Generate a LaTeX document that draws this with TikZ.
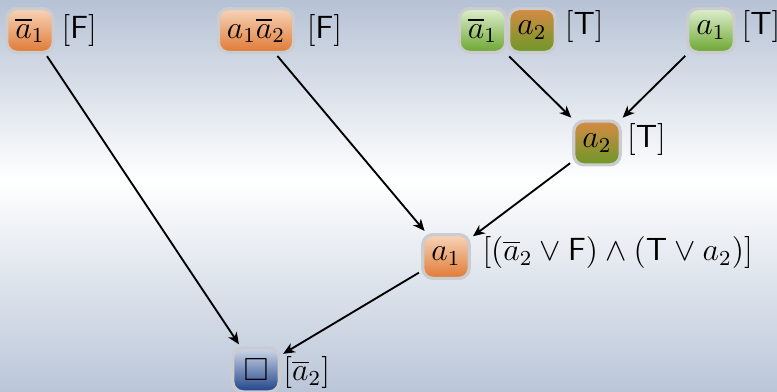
\documentclass[tikz,border=0pt]{standalone}
\usepackage{amssymb}
\usetikzlibrary{arrows.meta,fit}

\definecolor{bgTop}{RGB}{182,194,213}
\definecolor{bgBot}{RGB}{186,198,216}
\definecolor{edgegrey}{RGB}{202,204,208}
\definecolor{orTop}{RGB}{247,212,186}
\definecolor{orBot}{RGB}{224,122,52}
\definecolor{grTop}{RGB}{222,239,206}
\definecolor{grBot}{RGB}{108,166,48}
\definecolor{mxTop}{RGB}{214,138,68}
\definecolor{mxBot}{RGB}{108,152,40}
\definecolor{blTop}{RGB}{206,216,233}
\definecolor{blBot}{RGB}{30,66,136}

\begin{document}
\begin{tikzpicture}[x=0.375pt,y=-0.375pt,
  font=\fontsize{12}{14}\selectfont,
  lit/.style={rounded corners=3.8pt, minimum width=17.4pt, minimum height=16.4pt,
              inner sep=2pt, line width=1.2pt, draw=edgegrey},
  orng/.style={lit, top color=orTop, bottom color=orBot},
  grn/.style={lit, top color=grTop, bottom color=grBot},
  mix/.style={lit, top color=mxTop, bottom color=mxBot},
  blu/.style={lit, top color=blTop, bottom color=blBot},
  tag/.style={anchor=base west, inner sep=0pt},
  imp/.style={-{Stealth[length=4.4pt,width=3.8pt,inset=1.3pt]}, line width=0.7pt,
              shorten >=1pt, shorten <=1pt}
]
% backdrop: light blue fading to white in the middle and back
\shade[top color=bgTop, bottom color=white] (0,0) rectangle (777,180);
\shade[top color=white, bottom color=bgBot] (0,180) rectangle (777,392);
\useasboundingbox (0,0) rectangle (777,392);

% clauses on the top row
\node[orng] (c1) at (30,30.5) {$\overline{a}_1$};
\node[tag] (t1) at ([xshift=2.4pt]c1.base east) {$[\mathsf{F}]$};

\node[orng, minimum width=28.2pt] (c2) at (256,30.5) {$a_1\overline{a}_2$};
\node[tag] (t2) at ([xshift=4.2pt]c2.base east) {$[\mathsf{F}]$};

\node[grn] (c3a) at (482.5,30.5) {$\overline{a}_1$};
\node[mix] (c3b) at (532,30.5) {$a_2$};
\node[inner sep=0pt, fit=(c3a)(c3b)] (c3) {};
\node[tag] (t3) at ([xshift=2.8pt]c3b.base east) {$[\mathsf{T}]$};

\node[grn] (c4) at (711,30.5) {$a_1$};
\node[tag] (t4) at ([xshift=2pt]c4.base east) {$[\mathsf{T}]$};

% resolvents
\node[mix] (r1) at (597,143) {$a_2$};
\node[tag] (u1) at ([xshift=1.8pt]r1.base east) {$[\mathsf{T}]$};

\node[orng] (r2) at (446,256.5) {$a_1$};
\node[tag] (u2) at ([xshift=4.2pt]r2.base east)
  {$[(\overline{a}_2\vee\mathsf{F})\wedge(\mathsf{T}\vee a_2)]$};

\node[blu] (r3) at (256,370) {$\square$};
\node[tag] (u3) at ([xshift=0.8pt]r3.base east) {$[\overline{a}_2]$};

% resolution steps
\draw[imp] (c1) -- (r3);
\draw[imp] (c2) -- (r2);
\draw[imp] (c3.south) -- (r1);
\draw[imp] (c4) -- (r1);
\draw[imp] (r1) -- (r2);
\draw[imp] (r2) -- (r3);
\end{tikzpicture}
\end{document}
